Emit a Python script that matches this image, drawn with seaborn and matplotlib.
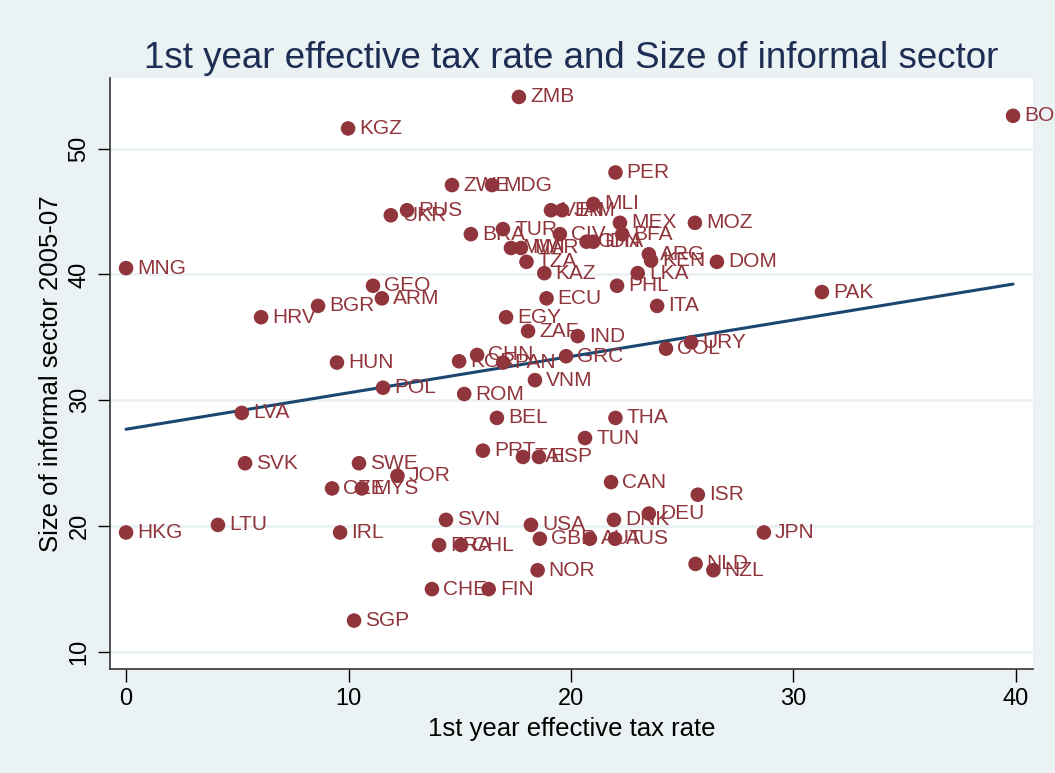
import pandas as pd
import seaborn as sns
import matplotlib.pyplot as plt
import numpy as np

# country codes, 1st year effective tax rate, size of informal sector 2005-07
country = ["ZMB", "KGZ", "BOL", "PER", "ZWE", "MDG", "MLI", "VEN", "JAM", "RUS",
           "UKR", "MEX", "MOZ", "TUR", "BRA", "BFA", "CIV", "GHA", "IDN", "MWI",
           "MAR", "TZA", "ARG", "KEN", "DOM", "MNG", "KAZ", "LKA", "GEO", "PHL",
           "PAK", "ARM", "ECU", "BGR", "ITA", "HRV", "EGY", "ZAF", "IND", "URY",
           "COL", "CHN", "GRC", "KOR", "PAN", "HUN", "VNM", "POL", "ROM", "LVA",
           "BEL", "THA", "TUN", "PRT", "TAI", "ESP", "CAN", "SVK", "SWE", "JOR",
           "CZE", "MYS", "ISR", "DEU", "DNK", "SVN", "USA", "HKG", "LTU", "IRL",
           "JPN", "GBR", "AUT", "AUS", "FRA", "CHL", "NLD", "NZL", "NOR", "CHE",
           "FIN", "SGP"]
tax_rate = [17.66, 9.98, 39.87, 22.0, 14.65, 16.45, 21.0, 19.1, 19.6, 12.63,
            11.9, 22.2, 25.57, 16.94, 15.5, 22.3, 19.5, 20.7, 21.0, 17.3,
            17.75, 18.0, 23.5, 23.6, 26.56, 0.0, 18.8, 23.0, 11.1, 22.07,
            31.28, 11.5, 18.9, 8.63, 23.87, 6.07, 17.08, 18.07, 20.3, 25.4,
            24.27, 15.78, 19.78, 14.97, 16.95, 9.48, 18.38, 11.55, 15.2, 5.2,
            16.67, 22.0, 20.63, 16.04, 17.84, 18.56, 21.8, 5.35, 10.47, 12.2,
            9.26, 10.6, 25.7, 23.5, 21.93, 14.38, 18.2, 0.0, 4.13, 9.62,
            28.67, 18.6, 20.85, 21.98, 14.07, 15.06, 25.6, 26.4, 18.5, 13.75,
            16.3, 10.25]
informal = [54.1, 51.6, 52.6, 48.1, 47.1, 47.1, 45.6, 45.1, 45.1, 45.1,
            44.7, 44.1, 44.1, 43.6, 43.2, 43.2, 43.2, 42.6, 42.6, 42.1,
            42.1, 41.0, 41.6, 41.1, 41.0, 40.5, 40.1, 40.1, 39.1, 39.1,
            38.6, 38.1, 38.1, 37.5, 37.5, 36.6, 36.6, 35.5, 35.1, 34.6,
            34.1, 33.6, 33.5, 33.1, 33.0, 33.0, 31.6, 31.0, 30.5, 29.0,
            28.6, 28.6, 27.0, 26.0, 25.5, 25.5, 23.5, 25.0, 25.0, 24.0,
            23.0, 23.0, 22.5, 21.0, 20.5, 20.5, 20.1, 19.5, 20.1, 19.5,
            19.5, 19.0, 19.0, 19.0, 18.5, 18.5, 17.0, 16.5, 16.5, 15.0,
            15.0, 12.5]

x_ticks = [0, 10, 20, 30, 40]
y_ticks = [10, 20, 30, 40, 50]

df = pd.DataFrame({"country": country, "tax": tax_rate, "informal": informal})

bg = "#EAF2F3"
dot = "#90353B"
navy = "#1A476F"

sns.set_theme(style="white")
plt.rcParams["font.family"] = ["Liberation Sans", "DejaVu Sans"]

fig = plt.figure(figsize=(10.55, 7.73), dpi=100, facecolor=bg)
ax = fig.add_axes([0.1043, 0.1345, 0.8747, 0.7645])
ax.set_facecolor("white")

# grid lines first so the marks sit on top
for t in y_ticks:
    ax.axhline(t, color=bg, lw=2, zorder=0)

sns.regplot(data=df, x="tax", y="informal", scatter=False, ci=None,
            color=navy, line_kws={"lw": 2.2, "zorder": 2}, ax=ax)
sns.scatterplot(data=df, x="tax", y="informal", color=dot, s=110,
                edgecolor="none", zorder=3, ax=ax)

for _, r in df.iterrows():
    ax.annotate(r["country"], (r["tax"], r["informal"]), xytext=(8, 0),
                textcoords="offset points", va="center", ha="left",
                fontsize=15, color=dot, zorder=4, annotation_clip=False)

ax.set_xlim(-0.72, 40.76)
ax.set_ylim(8.65, 55.6)
ax.set_xticks(x_ticks)
ax.set_yticks(y_ticks)
ax.set_yticklabels([str(t) for t in y_ticks], rotation=90, va="center")
ax.tick_params(axis="both", direction="out", length=9, width=1,
               colors="black", labelsize=17, pad=5)
ax.tick_params(axis="both", bottom=True, left=True)

for s in ["top", "right"]:
    ax.spines[s].set_visible(False)
for s in ["left", "bottom"]:
    ax.spines[s].set_color("#333333")
    ax.spines[s].set_linewidth(1.2)

ax.set_xlabel("1st year effective tax rate", fontsize=18.5, color="black", labelpad=5)
ax.set_ylabel("Size of informal sector 2005-07", fontsize=18.5, color="black", labelpad=4)
ax.set_title("1st year effective tax rate and Size of informal sector",
             fontsize=26.5, color="#1E2D53", pad=7)

fig.savefig("out.png", dpi=100, facecolor=bg)
